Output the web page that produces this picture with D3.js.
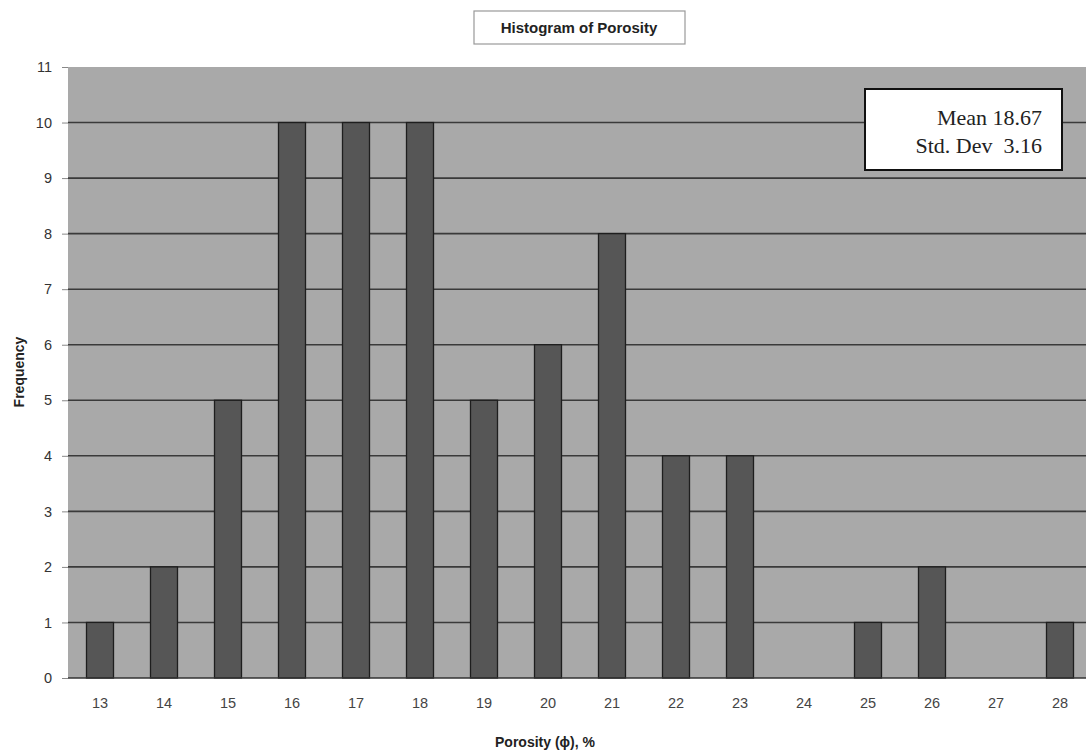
<!DOCTYPE html>
<html>
<head>
<meta charset="utf-8">
<script src="https://cdn.jsdelivr.net/npm/d3@7"></script>
<style>
  body { margin: 0; background: #fff; }
  svg { display: block; }
</style>
</head>
<body>
<svg class="h" width="1086" height="751"></svg>
<script>
// porosity classes and how many samples fall in each
var porosity = ["13","14","15","16","17","18","19","20","21","22","23","24","25","26","27","28"];
var frequency = [1, 2, 5, 10, 10, 10, 5, 6, 8, 4, 4, 0, 1, 2, 0, 1];
var yTicks = [0,1,2,3,4,5,6,7,8,9,10,11];
var statLines = ["Mean 18.67", "Std. Dev  3.16"];

var svg = d3.select("svg.h"),
    margin = { top: 67, right: -6, bottom: 73, left: 68 },
    iwidth = 1024,
    iheight = +svg.attr("height") - margin.top - margin.bottom;

var g = svg.append("g").attr("transform", "translate(" + margin.left + "," + margin.top + ")");

var x = d3.scaleBand().domain(porosity).range([0, iwidth]).paddingInner(0).paddingOuter(0);
var y = d3.scaleLinear().domain([0, 11]).range([iheight, 0]);

// plot area
g.append("rect")
  .attr("x", 0).attr("y", 0)
  .attr("width", iwidth).attr("height", iheight)
  .attr("fill", "#a9a9a9");

// grid lines
g.append("g")
  .selectAll("line")
  .data(yTicks.filter(d => d > 0 && d < 11))
  .enter().append("line")
    .attr("x1", 0).attr("x2", iwidth)
    .attr("y1", d => y(d)).attr("y2", d => y(d))
    .attr("stroke", "#3a3a3a")
    .attr("stroke-width", 1.6);

// bars
var bw = 27;
g.append("g")
  .selectAll("rect")
  .data(porosity.map((p, i) => ({ key: p, value: frequency[i] })).filter(d => d.value > 0))
  .enter().append("rect")
    .attr("x", d => x(d.key) + x.bandwidth() / 2 - bw / 2)
    .attr("y", d => y(d.value))
    .attr("width", bw)
    .attr("height", d => iheight - y(d.value))
    .attr("fill", "#565656")
    .attr("stroke", "#1e1e1e")
    .attr("stroke-width", 1.3);

// y axis
var yAxis = g.append("g")
  .call(d3.axisLeft(y).tickValues(yTicks).tickSize(6).tickPadding(10).tickFormat(d3.format("d")));
yAxis.select(".domain").remove();
yAxis.selectAll("line").attr("stroke", "#888");
yAxis.selectAll("text")
  .attr("font-family", "Arial, 'Liberation Sans', sans-serif")
  .attr("font-size", 14.5)
  .attr("fill", "#333");

// x axis
g.append("line")
  .attr("x1", 0).attr("x2", iwidth)
  .attr("y1", iheight).attr("y2", iheight)
  .attr("stroke", "#333").attr("stroke-width", 1.5);

var xAxis = g.append("g")
  .attr("transform", "translate(0," + iheight + ")")
  .call(d3.axisBottom(x).tickSize(0).tickPadding(20));
xAxis.select(".domain").remove();
xAxis.selectAll("text")
  .attr("font-family", "Arial, 'Liberation Sans', sans-serif")
  .attr("font-size", 14.5)
  .attr("fill", "#444");

// axis titles
svg.append("text")
  .attr("x", 545).attr("y", 747)
  .attr("text-anchor", "middle")
  .attr("font-family", "Arial, 'Liberation Sans', sans-serif")
  .attr("font-weight", "bold")
  .attr("font-size", 14)
  .attr("fill", "#222")
  .text("Porosity (\u03d5), %");

svg.append("text")
  .attr("transform", "translate(24,372) rotate(-90)")
  .attr("text-anchor", "middle")
  .attr("font-family", "Arial, 'Liberation Sans', sans-serif")
  .attr("font-weight", "bold")
  .attr("font-size", 14)
  .attr("fill", "#222")
  .text("Frequency");

// chart title in a box
svg.append("rect")
  .attr("x", 474).attr("y", 11)
  .attr("width", 211).attr("height", 33)
  .attr("fill", "#fff")
  .attr("stroke", "#999").attr("stroke-width", 1.2);
svg.append("text")
  .attr("x", 579).attr("y", 33)
  .attr("text-anchor", "middle")
  .attr("font-family", "Arial, 'Liberation Sans', sans-serif")
  .attr("font-weight", "bold")
  .attr("font-size", 15)
  .attr("fill", "#222")
  .text("Histogram of Porosity");

// stats box
svg.append("rect")
  .attr("x", 865).attr("y", 89)
  .attr("width", 197).attr("height", 81)
  .attr("fill", "#fff")
  .attr("stroke", "#111").attr("stroke-width", 2);
svg.append("g")
  .selectAll("text")
  .data(statLines)
  .enter().append("text")
    .attr("x", 1042)
    .attr("y", (d, i) => 125 + i * 28)
    .attr("text-anchor", "end")
    .attr("font-family", "'Liberation Serif', 'Times New Roman', serif")
    .attr("font-size", 22)
    .attr("fill", "#222")
    .attr("xml:space", "preserve")
    .style("white-space", "pre")
    .text(d => d);
</script>
</body>
</html>
